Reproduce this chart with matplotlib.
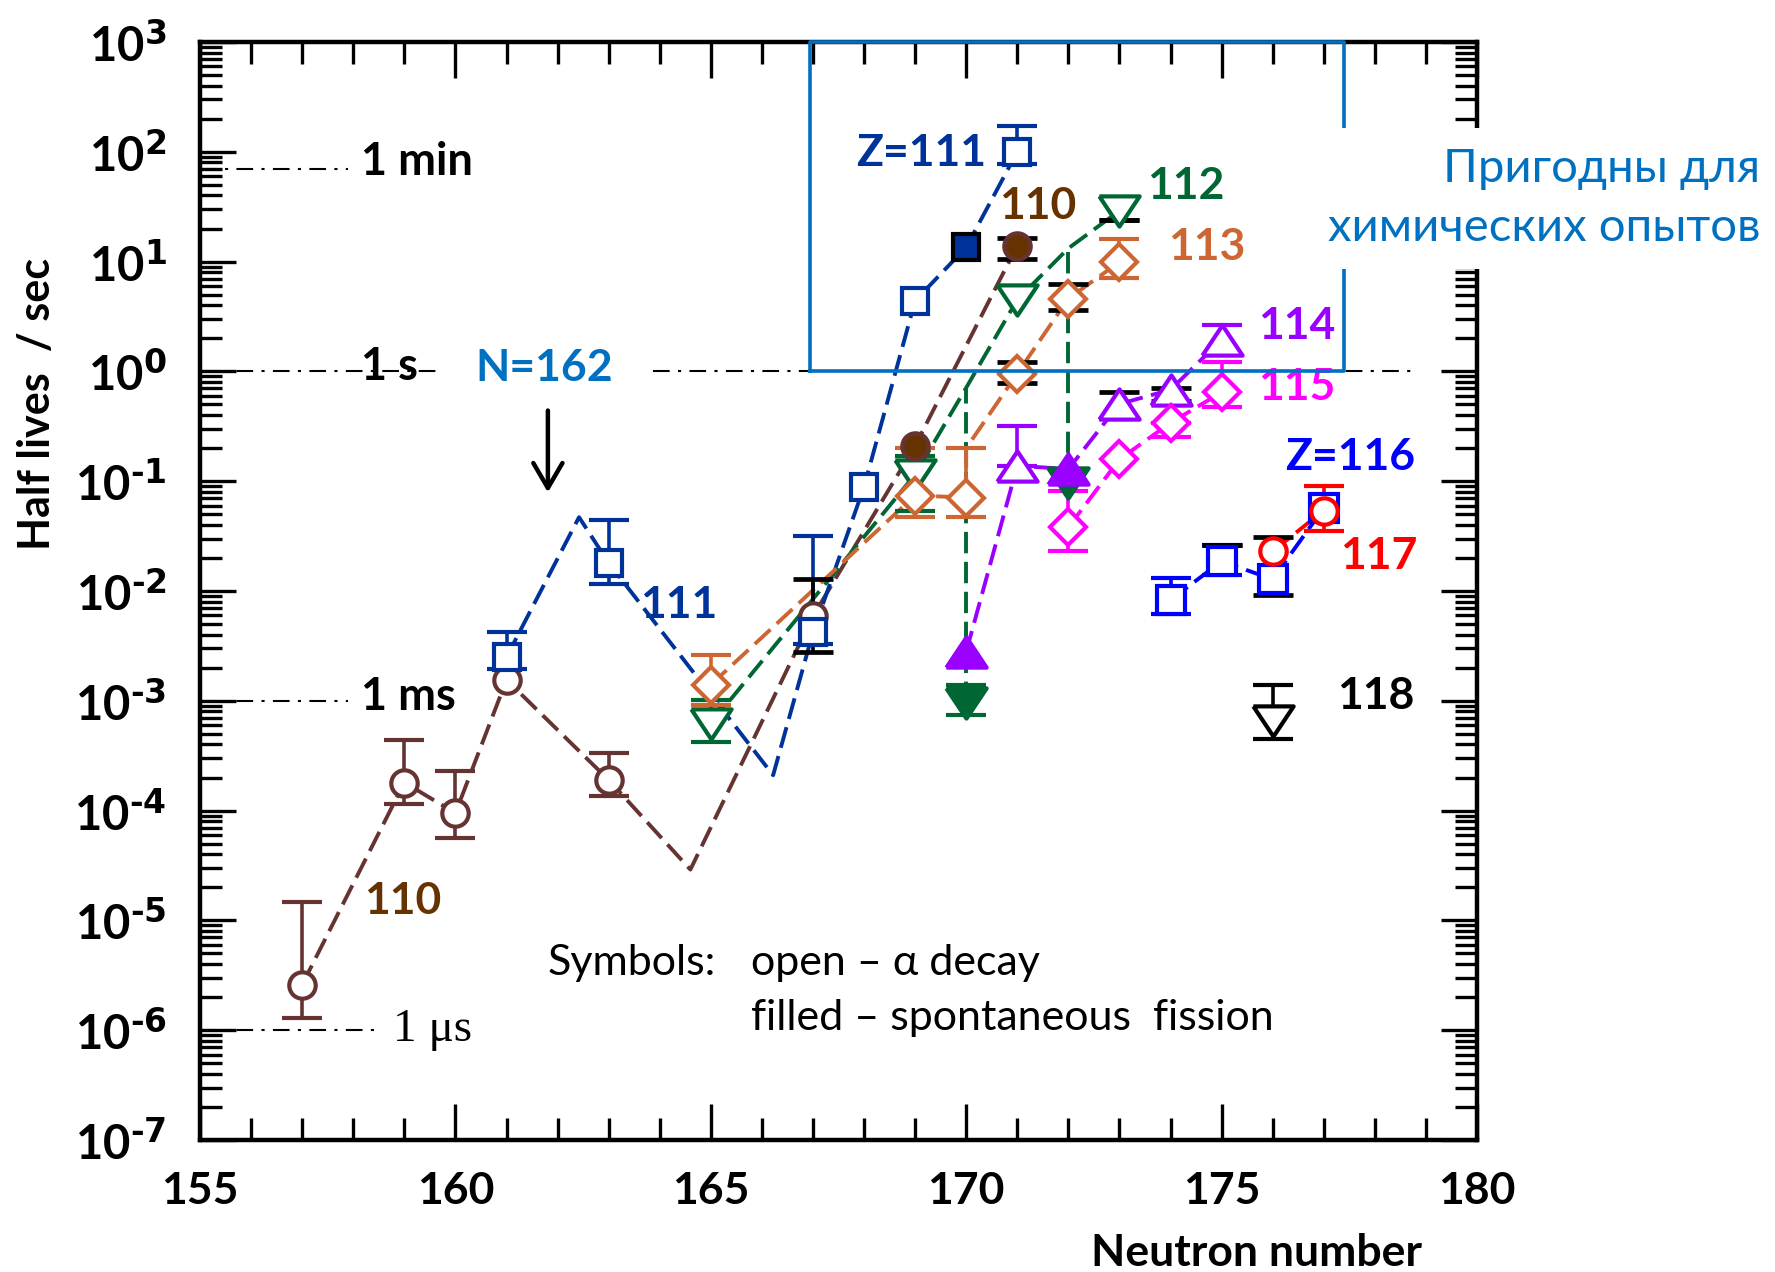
import numpy as np
import matplotlib
matplotlib.use("Agg")
import matplotlib.pyplot as plt
from matplotlib.ticker import MultipleLocator, LogLocator, NullFormatter, FuncFormatter

plt.rcParams['font.family'] = ['Lato', 'DejaVu Sans']
plt.rcParams['font.weight'] = 'bold'
plt.rcParams['mathtext.default'] = 'regular'

nan = np.nan

# Z=110 (open - alpha, filled - SF)
z110_n = [157, 159, 160, 161, 163, 167]
z110_t = [2.6e-6, 1.8e-4, 9.5e-5, 1.55e-3, 1.9e-4, 5.9e-3]
z110_lo = [1.28e-6, 1.15e-4, 5.6e-5, nan, 1.35e-4, nan]
z110_hi = [1.48e-5, 4.4e-4, 2.3e-4, nan, 3.35e-4, nan]
z110_sf_n = [169, 171]
z110_sf_t = [0.21, 14.0]
z110_line_n = [157, 159, 160, 161, 163, 164.6, 167, 169, 171]
z110_line_t = [2.6e-6, 1.8e-4, 9.5e-5, 1.55e-3, 1.9e-4, 2.9e-5, 5.9e-3, 0.21, 14.0]

# Z=111
z111_n = [161, 163, 167, 168, 169, 171]
z111_t = [2.5e-3, 0.018, 4.2e-3, 0.089, 4.4, 100]
z111_lo = [1.95e-3, 0.0115, 3.3e-3, nan, nan, 78]
z111_hi = [4.2e-3, 0.044, 0.0316, nan, nan, 171]
z111_sf_n = [170]
z111_sf_t = [13.5]
z111_line_n = [161, 162.42, 163, 166.22, 167, 168, 169, 170, 171]
z111_line_t = [2.5e-3, 0.047, 0.018, 2.1e-4, 4.2e-3, 0.089, 4.4, 13.5, 100]

# Z=112
z112_n = [165, 169, 171, 173]
z112_t = [6.2e-4, 0.115, 4.5, 29]
z112_lo = [4.2e-4, 0.054, nan, nan]
z112_hi = [1.02e-3, 0.17, nan, nan]
z112_sf_n = [170, 172]
z112_sf_t = [9.5e-4, 0.096]
z112_sf_lo = [7.4e-4, nan]
z112_sf_hi = [1.4e-3, nan]
z112_line_n = [165, 169, 170, 171, 172, 173]
z112_line_t = [6.2e-4, 0.115, 0.71, 4.5, 13.2, 29]
z112_drop_n = [170, 172]
z112_drop_top = [0.71, 13.2]
z112_drop_bot = [9.5e-4, 0.096]

# Z=113
z113_n = [165, 169, 170, 171, 172, 173]
z113_t = [1.4e-3, 0.074, 0.071, 0.955, 4.6, 9.9]
z113_lo = [9.1e-4, 0.047, 0.047, nan, nan, 7.1]
z113_hi = [2.6e-3, 0.2, 0.2, nan, nan, 16.2]
z113_line_n = [165, 169, 170, 170, 171, 172, 173]
z113_line_t = [1.4e-3, 0.074, 0.071, 0.2, 0.955, 4.6, 9.9]

# Z=114
z114_n = [171, 173, 174, 175]
z114_t = [0.138, 0.505, 0.68, 1.94]
z114_lo = [0.138, nan, nan, 1.42]
z114_hi = [0.32, nan, nan, 2.67]
z114_sf_n = [170, 172]
z114_sf_t = [2.8e-3, 0.129]
z114_line_n = [170, 171, 172, 173, 174, 175]
z114_line_t = [2.8e-3, 0.138, 0.129, 0.505, 0.68, 1.94]

# Z=115
z115_n = [172, 173, 174, 175]
z115_t = [0.038, 0.158, 0.34, 0.645]
z115_lo = [0.023, nan, 0.25, 0.47]
z115_hi = [0.081, nan, 0.34, 1.21]

# Z=116
z116_n = [174, 175, 176, 177]
z116_t = [8.3e-3, 0.0186, 0.0128, 0.057]
z116_lo = [6.2e-3, 0.014, nan, nan]
z116_hi = [0.0132, 0.026, nan, nan]

# Z=117
z117_n = [176, 177]
z117_t = [0.023, 0.054]
z117_lo = [nan, 0.035]
z117_hi = [nan, 0.091]

# Z=118
z118_n = [176]
z118_t = [6.6e-4]
z118_lo = [4.5e-4]
z118_hi = [1.38e-3]

# black error bars
blk_n = [167, 171, 171, 172, 173, 173, 174, 175, 176]
blk_lo = [2.8e-3, 10.6, 0.78, 3.6, 24, 0.38, 0.54, 0.026, 9.1e-3]
blk_hi = [0.0128, 16.5, 1.21, 6.2, 24, 0.645, 0.71, 0.026, 0.031]

# labels
lab_text = ['Z=111', '110', '112', '113', '114', '115', 'Z=116', '117', '118', '111', '110', 'N=162']
lab_n = [169.11, 171.40, 174.30, 174.71, 176.47, 176.47, 177.52, 178.08, 178.02, 164.37, 158.97, 161.73]
lab_logt = [1.987, 1.505, 1.686, 1.132, 0.409, -0.139, -0.784, -1.68, -2.96, -2.13, -4.82, 0.03]
lab_color = ['#003399', '#663300', '#006633', '#CC6633', '#9900FF', '#FF00FF', '#0000FF',
             '#FF0000', 'black', '#003399', '#663300', '#0070C0']

# time reference lines
ref_t = [70, 1, 1e-3, 1e-6]
ref_end = [157.9, 159.72, 157.9, 158.55]
ref_label = ['1 min', '1 s', '1 ms', '1 \u03bcs']
ref_lab_n = [158.16, 158.16, 158.16, 158.77]
ref_lab_logt = [1.905, 0.037, -2.97, -6.0]
sec_line2 = [163.87, 178.71]

box_n = [166.95, 177.40]
box_t = [1, 1000]
arrow_n = 161.81
arrow_from = 0.44
arrow_to = 0.079

C110 = '#663333'
C111 = '#003399'
C112 = '#006633'
C113 = '#CC6633'
C114 = '#9900FF'
C115 = '#FF00FF'
C116 = '#0000FF'
C117 = '#FF0000'

tri_down = [(-1, 0.75), (1, 0.75), (0, -0.75), (-1, 0.75)]
tri_up = [(-1, -0.75), (1, -0.75), (0, 0.75), (-1, -0.75)]

fig = plt.figure(figsize=(17.75, 12.72), dpi=100)
ax = fig.add_axes([0.1127, 0.1038, 0.7194, 0.8632])


def dashed(n, t, color):
    ax.plot(n, t, color=color, lw=2.8, ls=(0, (5.5, 2.2)), zorder=2)


def draw(n, t, lo, hi, color, marker, ms, face='white', edge=None, z=4):
    n = np.asarray(n, float)
    t = np.asarray(t, float)
    if lo is not None:
        lo = np.asarray(lo, float)
        hi = np.asarray(hi, float)
        m = ~np.isnan(lo)
        if m.any():
            ax.errorbar(n[m], t[m], yerr=[t[m] - lo[m], hi[m] - t[m]], fmt='none',
                        ecolor=color, elinewidth=2.6, capsize=14.5, capthick=3.0, zorder=3)
    ax.plot(n, t, ls='none', marker=marker, ms=ms, mfc=face,
            mec=edge if edge else color, mew=3.0, zorder=z)


# lines
dashed(z110_line_n, z110_line_t, C110)
dashed(z111_line_n, z111_line_t, C111)
dashed(z112_line_n, z112_line_t, C112)
ax.vlines(z112_drop_n, z112_drop_bot, z112_drop_top, colors=C112, lw=2.8,
          linestyles=[(0, (5.5, 2.2))], zorder=2)
dashed(z113_line_n, z113_line_t, C113)
dashed(z114_line_n, z114_line_t, C114)
dashed(z115_n, z115_t, C115)
dashed(z116_n, z116_t, C116)
dashed(z117_n, z117_t, C117)

# black error bars
bn = np.asarray(blk_n, float)
bl = np.asarray(blk_lo)
bh = np.asarray(blk_hi)
ax.errorbar(bn, bl, yerr=[np.zeros_like(bl), bh - bl], fmt='none', ecolor='black',
            elinewidth=2.6, capsize=14.5, capthick=3.4, zorder=3.5)

# markers
draw(z110_n, z110_t, z110_lo, z110_hi, C110, 'o', 19)
draw(z110_sf_n, z110_sf_t, None, None, C110, 'o', 19, face='#663300', z=4.5)
draw(z111_n, z111_t, z111_lo, z111_hi, C111, 's', 19)
draw(z111_sf_n, z111_sf_t, None, None, C111, 's', 19, face=C111, edge='black', z=4.5)
draw(z112_n, z112_t, z112_lo, z112_hi, C112, tri_down, 29)
draw(z112_sf_n, z112_sf_t, z112_sf_lo, z112_sf_hi, C112, tri_down, 29, face=C112, z=4.5)
draw(z113_n, z113_t, z113_lo, z113_hi, C113, 'D', 18.5, z=4.2)
draw(z114_n, z114_t, z114_lo, z114_hi, C114, tri_up, 29)
draw(z114_sf_n, z114_sf_t, None, None, C114, tri_up, 29, face=C114, z=4.6)
draw(z115_n, z115_t, z115_lo, z115_hi, C115, 'D', 18.5)
draw(z116_n, z116_t, z116_lo, z116_hi, C116, 's', 20)
draw(z117_n, z117_t, z117_lo, z117_hi, C117, 'o', 19, z=4.5)
draw(z118_n, z118_t, z118_lo, z118_hi, 'black', tri_down, 29)

# reference time lines
dashdot = (0, (8, 4, 1.5, 4))
for t, xe in zip(ref_t, ref_end):
    ax.plot([155, xe], [t, t], color='black', lw=1.5, ls=dashdot, zorder=1.5)
ax.plot(sec_line2, [1, 1], color='black', lw=1.5, ls=dashdot, zorder=1.5)
for s, xn, ly in zip(ref_label[:3], ref_lab_n[:3], ref_lab_logt[:3]):
    ax.text(xn, 10 ** ly, s, fontsize=32.5, ha='left', va='center', zorder=3)
ax.text(ref_lab_n[3], 10 ** ref_lab_logt[3], ref_label[3], fontsize=34, fontweight='normal',
        family=['Liberation Serif', 'DejaVu Serif'], ha='left', va='center')

# element labels
for s, xn, ly, c in zip(lab_text, lab_n, lab_logt, lab_color):
    ax.text(xn, 10 ** ly, s, color=c, fontsize=32, ha='center', va='center', zorder=5)

# arrow at N=162
ax.annotate('', xy=(arrow_n, arrow_to), xytext=(arrow_n, arrow_from),
            arrowprops=dict(arrowstyle='->,head_length=0.6,head_width=0.35', lw=3.2,
                            color='black', mutation_scale=30, shrinkA=0, shrinkB=0))

# chemistry box
ax.plot([box_n[0], box_n[0], box_n[1], box_n[1], box_n[0]],
        [box_t[0], box_t[1], box_t[1], box_t[0], box_t[0]],
        color='#0070C0', lw=2.6, clip_on=False, zorder=6)

# symbols note
note_kw = dict(fontsize=31, fontweight='normal', va='baseline')
ax.text(161.81, 10 ** -5.50, 'Symbols:', **note_kw)
ax.text(165.79, 10 ** -5.50, 'open \u2013 \u03b1 decay', **note_kw)
ax.text(165.79, 10 ** -6.0, 'filled \u2013 spontaneous  fission', **note_kw)

# axes
ax.set_xlim(155, 180)
ax.set_yscale('log')
ax.set_ylim(1e-7, 1e3)
ax.xaxis.set_major_locator(MultipleLocator(5))
ax.xaxis.set_minor_locator(MultipleLocator(1))
ax.yaxis.set_major_locator(LogLocator(base=10, numticks=30))
ax.yaxis.set_minor_locator(LogLocator(base=10, subs=np.arange(2, 10), numticks=30))
ax.yaxis.set_minor_formatter(NullFormatter())
ax.yaxis.set_major_formatter(FuncFormatter(
    lambda v, p: r'$10^{\text{%d}}$' % int(round(np.log10(v)))))
ax.tick_params(which='both', direction='in', top=True, right=True, width=2.4)
ax.tick_params(which='major', length=26)
ax.tick_params(which='minor', length=16)
ax.tick_params(axis='x', which='major', labelsize=32, pad=22)
ax.tick_params(axis='y', which='major', labelsize=34, pad=24)
for s in ax.spines.values():
    s.set_linewidth(3.2)

fig.text(0.0206, 0.682, 'Half lives  / sec', rotation=90, ha='center', va='center', fontsize=31)
fig.text(0.708, 0.015, 'Neutron number', ha='center', va='center', fontsize=32)
fig.text(0.870, 0.844, '\u041f\u0440\u0438\u0433\u043e\u0434\u043d\u044b \u0434\u043b\u044f\n'
         '\u0445\u0438\u043c\u0438\u0447\u0435\u0441\u043a\u0438\u0445 \u043e\u043f\u044b\u0442\u043e\u0432',
         fontsize=34, fontweight='normal', color='#0070C0', ha='center', va='center',
         multialignment='right', linespacing=1.5, family=['Lato', 'Open Sans', 'DejaVu Sans'],
         bbox=dict(boxstyle='square,pad=0.42', fc='white', ec='none'))

fig.savefig('out.png', dpi=100)
